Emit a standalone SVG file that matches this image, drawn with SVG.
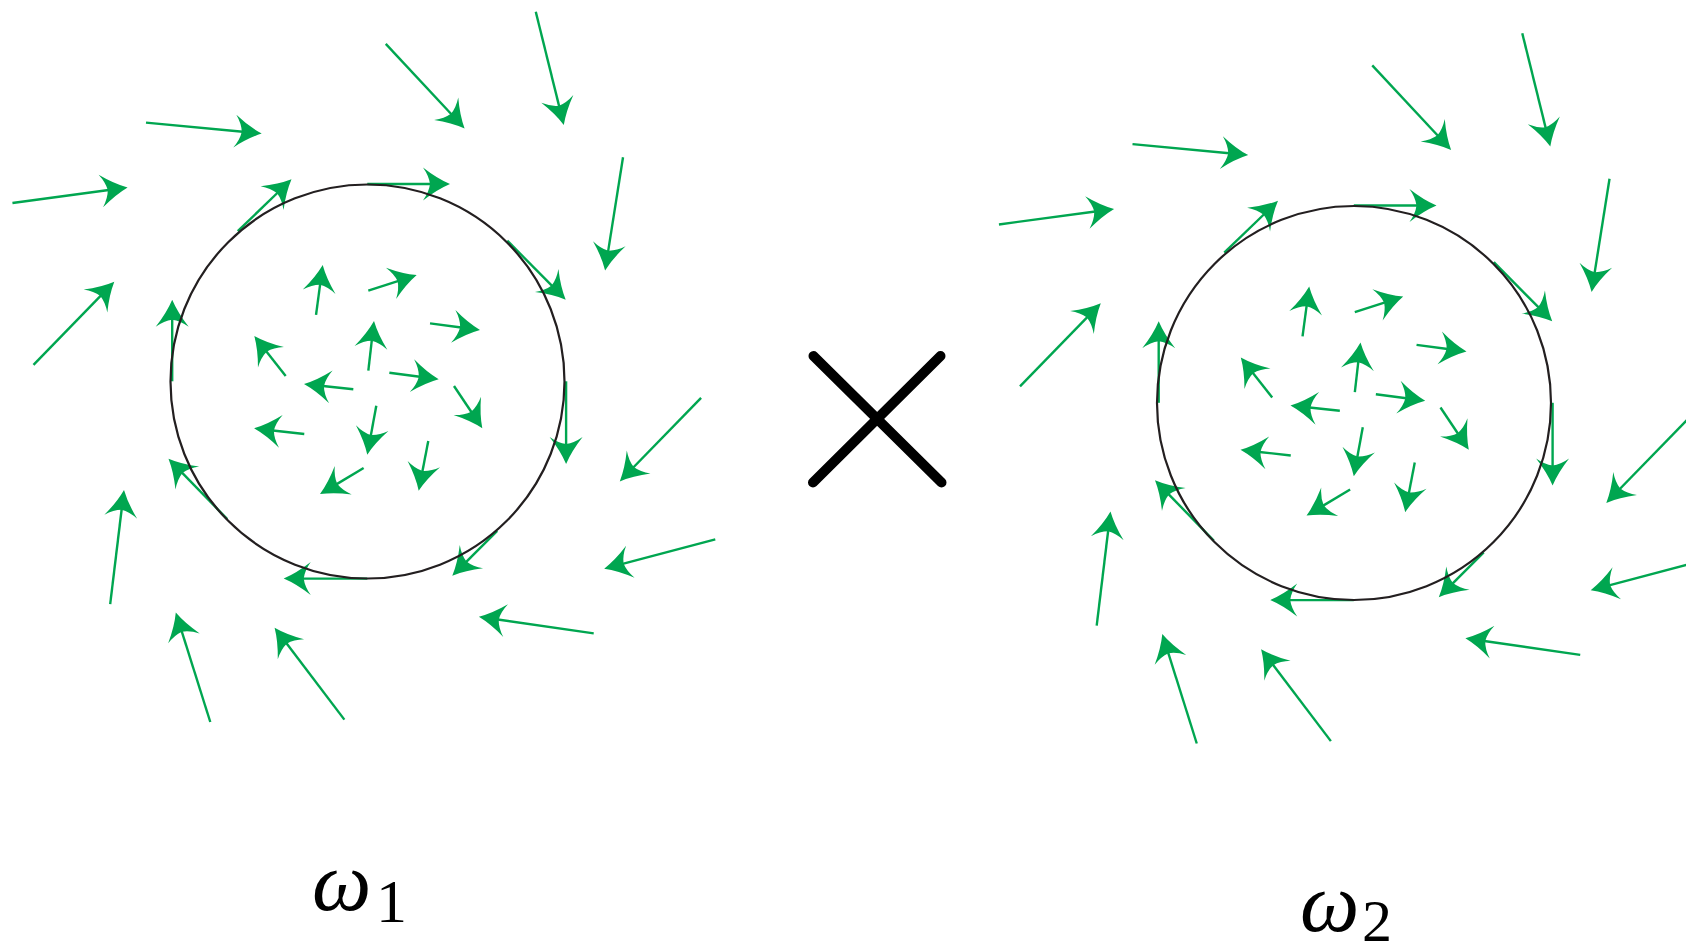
<svg xmlns="http://www.w3.org/2000/svg" xmlns:xlink="http://www.w3.org/1999/xlink" width="1686" height="945" viewBox="0 0 1686 945">
<style>
.sh{stroke:#00a650;stroke-width:2.4;fill:none}
.hd{fill:#00a650;stroke:none}
.ring{fill:none;stroke:#231f20;stroke-width:2.2}
.lbl{font-family:"Liberation Serif","DejaVu Serif",serif;fill:#000}
</style>
<defs>
<path id="hd" class="hd" d="M0,0 Q-13,-5.5 -27,-16.5 Q-21,-8 -20,0 Q-21,8 -27,16.5 Q-13,5.5 0,0Z"/>
<g id="field">
<g id="arrows">
<g transform="translate(563.8 125.1) rotate(76.1)"><line class="sh" x1="-116.7" y1="0" x2="-19" y2="0"/><use xlink:href="#hd"/></g>
<g transform="translate(464.6 128.4) rotate(47.0)"><line class="sh" x1="-115.6" y1="0" x2="-19" y2="0"/><use xlink:href="#hd"/></g>
<g transform="translate(261.7 133.6) rotate(5.4)"><line class="sh" x1="-116.2" y1="0" x2="-19" y2="0"/><use xlink:href="#hd"/></g>
<g transform="translate(127.6 187.4) rotate(-7.7)"><line class="sh" x1="-116.2" y1="0" x2="-19" y2="0"/><use xlink:href="#hd"/></g>
<g transform="translate(605.1 270.4) rotate(99.0)"><line class="sh" x1="-114.6" y1="0" x2="-19" y2="0"/><use xlink:href="#hd"/></g>
<g transform="translate(114.3 281.7) rotate(-45.8)"><line class="sh" x1="-115.9" y1="0" x2="-19" y2="0"/><use xlink:href="#hd"/></g>
<g transform="translate(291.5 179.3) rotate(-44.0)"><line class="sh" x1="-74.7" y1="0" x2="-19" y2="0"/><use xlink:href="#hd"/></g>
<g transform="translate(450 184) rotate(0)"><line class="sh" x1="-82.7" y1="0" x2="-19" y2="0"/><use xlink:href="#hd"/></g>
<g transform="translate(565.7 299.7) rotate(45.3)"><line class="sh" x1="-83" y1="0" x2="-19" y2="0"/><use xlink:href="#hd"/></g>
<g transform="translate(172.2 299.7) rotate(-90)"><line class="sh" x1="-81.6" y1="0" x2="-19" y2="0"/><use xlink:href="#hd"/></g>
<g transform="translate(566.1 463.9) rotate(90)"><line class="sh" x1="-82.6" y1="0" x2="-19" y2="0"/><use xlink:href="#hd"/></g>
<g transform="translate(168.5 458.7) rotate(-134.2)"><line class="sh" x1="-84.3" y1="0" x2="-19" y2="0"/><use xlink:href="#hd"/></g>
<g transform="translate(452.3 575.7) rotate(135.1)"><line class="sh" x1="-63.4" y1="0" x2="-19" y2="0"/><use xlink:href="#hd"/></g>
<g transform="translate(283.7 578.6) rotate(180)"><line class="sh" x1="-83.6" y1="0" x2="-19" y2="0"/><use xlink:href="#hd"/></g>
<g transform="translate(619.8 481.4) rotate(134.2)"><line class="sh" x1="-116.6" y1="0" x2="-19" y2="0"/><use xlink:href="#hd"/></g>
<g transform="translate(604.2 568.7) rotate(165.2)"><line class="sh" x1="-114.9" y1="0" x2="-19" y2="0"/><use xlink:href="#hd"/></g>
<g transform="translate(478.9 616.8) rotate(-171.8)"><line class="sh" x1="-116" y1="0" x2="-19" y2="0"/><use xlink:href="#hd"/></g>
<g transform="translate(274.6 627.7) rotate(-127.2)"><line class="sh" x1="-115.4" y1="0" x2="-19" y2="0"/><use xlink:href="#hd"/></g>
<g transform="translate(175.8 612.6) rotate(-107.5)"><line class="sh" x1="-114.7" y1="0" x2="-19" y2="0"/><use xlink:href="#hd"/></g>
<g transform="translate(124 489.9) rotate(-83.1)"><line class="sh" x1="-115" y1="0" x2="-19" y2="0"/><use xlink:href="#hd"/></g>
<g transform="translate(322.7 265) rotate(-82.4)"><line class="sh" x1="-50.4" y1="0" x2="-19" y2="0"/><use xlink:href="#hd"/></g>
<g transform="translate(416.7 275) rotate(-18.0)"><line class="sh" x1="-50.9" y1="0" x2="-19" y2="0"/><use xlink:href="#hd"/></g>
<g transform="translate(480 330) rotate(7.6)"><line class="sh" x1="-50.4" y1="0" x2="-19" y2="0"/><use xlink:href="#hd"/></g>
<g transform="translate(254.3 336) rotate(-128.1)"><line class="sh" x1="-50.9" y1="0" x2="-19" y2="0"/><use xlink:href="#hd"/></g>
<g transform="translate(374 321) rotate(-83.5)"><line class="sh" x1="-50" y1="0" x2="-19" y2="0"/><use xlink:href="#hd"/></g>
<g transform="translate(304 384) rotate(-173.9)"><line class="sh" x1="-49.6" y1="0" x2="-19" y2="0"/><use xlink:href="#hd"/></g>
<g transform="translate(438.7 379.3) rotate(7.6)"><line class="sh" x1="-49.8" y1="0" x2="-19" y2="0"/><use xlink:href="#hd"/></g>
<g transform="translate(482.3 428.3) rotate(56.2)"><line class="sh" x1="-50.9" y1="0" x2="-19" y2="0"/><use xlink:href="#hd"/></g>
<g transform="translate(254 428.3) rotate(-173.5)"><line class="sh" x1="-50.6" y1="0" x2="-19" y2="0"/><use xlink:href="#hd"/></g>
<g transform="translate(367.3 454.7) rotate(100.4)"><line class="sh" x1="-49.8" y1="0" x2="-19" y2="0"/><use xlink:href="#hd"/></g>
<g transform="translate(418.7 490.7) rotate(100.9)"><line class="sh" x1="-50.6" y1="0" x2="-19" y2="0"/><use xlink:href="#hd"/></g>
<g transform="translate(320 494.1) rotate(149.2)"><line class="sh" x1="-50.8" y1="0" x2="-19" y2="0"/><use xlink:href="#hd"/></g>
</g>
<circle class="ring" cx="367.5" cy="381.5" r="197"/>
</g>
</defs>
<g id="field-1"><use xlink:href="#field"/></g>
<g id="field-2"><use xlink:href="#field" transform="translate(986.5 21.5)"/></g>
<g id="times">
<line x1="813.5" y1="356" x2="941.5" y2="482.5" stroke="#000" stroke-width="10" stroke-linecap="round"/>
<line x1="940.5" y1="356" x2="813" y2="482.5" stroke="#000" stroke-width="10" stroke-linecap="round"/>
</g>
<g id="label-1"><text class="lbl" y="910"><tspan x="312" font-style="italic" font-size="84">ω</tspan><tspan x="376" y="922" font-size="62">1</tspan></text></g>
<g id="label-2"><text class="lbl" y="931"><tspan x="1300" font-style="italic" font-size="84">ω</tspan><tspan x="1362" y="941" font-size="60">2</tspan></text></g>
</svg>
